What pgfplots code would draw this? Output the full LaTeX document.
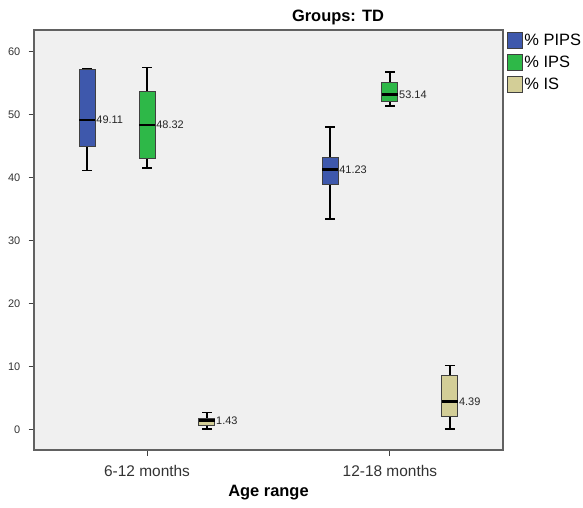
\documentclass[border=0pt]{standalone}
\usepackage{pgfplots}
\pgfplotsset{compat=1.18}
\usepgfplotslibrary{statistics}
\usepackage{fontspec}
\setmainfont{Liberation Sans}

\definecolor{pipsblue}{RGB}{62,88,172}
\definecolor{ipsgreen}{RGB}{46,184,72}
\definecolor{isbeige}{RGB}{211,206,151}
\definecolor{panel}{RGB}{240,240,240}

\pgfplotsset{
  legpatch/.style={draw=black!75, line width=1bp,
    legend image code/.code={\draw[##1] (0bp,-8bp) rectangle (15bp,8bp);}},
}
\tikzset{
  medlabel/.style={anchor=west, inner sep=0.8bp, text=black!85,
    font=\fontsize{11}{13}\selectfont},
}

\begin{document}
\begin{tikzpicture}
\begin{axis}[
  name=ax, scale only axis, width=469bp, height=420bp,
  xmin=0.5345, xmax=2.4655, ymin=-3.29, ymax=63.39,
  clip mode=individual,
  axis background/.style={fill=panel},
  axis line style={draw=black!62, line width=1.2bp},
  tick pos=left, tick align=outside, major tick length=5.5bp,
  every tick/.style={black!75, line width=1bp},
  xtick={1,2}, xticklabels={6-12 months,12-18 months},
  ytick={0,10,...,60},
  /pgf/number format/assume math mode=true,
  xticklabel style={font=\fontsize{15.5}{18}\selectfont, text=black!80,
    anchor=base, yshift=-21bp},
  yticklabel style={font=\fontsize{11}{13}\selectfont, text=black!80,
    anchor=east, inner sep=0pt, xshift=-8bp},
  xlabel={Age range},
  xlabel style={font=\bfseries\fontsize{16.5}{19}\selectfont,
    at={(axis description cs:0.5,0)}, anchor=base, yshift=-46bp},
  boxplot/draw direction=y,
  boxplot/box extend=0.0657,
  boxplot/whisker extend=0.04,
  boxplot/every median/.style={draw=black, line width=2.6bp},
  boxplot/every whisker/.style={draw=black, line width=1.5bp},
  boxplot/every box/.style={line width=1bp},
  legend style={at={(1,1)}, anchor=north west, xshift=3.7bp, yshift=-2bp,
    draw=none, fill=none, inner sep=0pt, row sep=5bp,
    font=\fontsize{16.5}{18}\selectfont,
    nodes={inner sep=1.5bp}},
  legend cell align=left,
]

% 6-12 months
\addplot[forget plot, fill=pipsblue, draw=black!75, boxplot prepared={draw position=0.7535,
  lower whisker=41.05, lower quartile=44.9, median=49.11, upper quartile=57.1, upper whisker=57.2}]
  coordinates {};
\addplot[forget plot, fill=ipsgreen, draw=black!75, boxplot prepared={draw position=1,
  lower whisker=41.5, lower quartile=43.0, median=48.32, upper quartile=53.65, upper whisker=57.4}]
  coordinates {};
\addplot[forget plot, fill=isbeige, draw=black!75, boxplot prepared={draw position=1.2465,
  lower whisker=0.05, lower quartile=0.6, median=1.43, upper quartile=1.75, upper whisker=2.7}]
  coordinates {};

% 12-18 months
\addplot[forget plot, fill=pipsblue, draw=black!75, boxplot prepared={draw position=1.7535,
  lower whisker=33.4, lower quartile=38.9, median=41.23, upper quartile=43.2, upper whisker=48.0}]
  coordinates {};
\addplot[forget plot, fill=ipsgreen, draw=black!75, boxplot prepared={draw position=2,
  lower whisker=51.3, lower quartile=52.05, median=53.14, upper quartile=55.1, upper whisker=56.7}]
  coordinates {};
\addplot[forget plot, fill=isbeige, draw=black!75, boxplot prepared={draw position=2.2465,
  lower whisker=0.05, lower quartile=1.95, median=4.39, upper quartile=8.57, upper whisker=10.15}]
  coordinates {};

% median values
\node[medlabel] at (axis cs:0.7875,49.11) {49.11};
\node[medlabel] at (axis cs:1.034,48.32) {48.32};
\node[medlabel] at (axis cs:1.2805,1.43) {1.43};
\node[medlabel] at (axis cs:1.7875,41.23) {41.23};
\node[medlabel] at (axis cs:2.034,53.14) {53.14};
\node[medlabel] at (axis cs:2.2805,4.39) {4.39};

\addlegendimage{legpatch, fill=pipsblue}
\addlegendentry{\% PIPS}
\addlegendimage{legpatch, fill=ipsgreen}
\addlegendentry{\% IPS}
\addlegendimage{legpatch, fill=isbeige}
\addlegendentry{\% IS}
\end{axis}
\node[font=\bfseries\fontsize{16.5}{19}\selectfont, anchor=base]
  at ([xshift=304bp,yshift=8bp]ax.north west) {Groups: TD};
\pgfresetboundingbox
\path[use as bounding box] (ax.south west) ++(-34bp,-58bp)
  rectangle ([xshift=80bp,yshift=30bp]ax.north east);
\end{tikzpicture}
\end{document}
